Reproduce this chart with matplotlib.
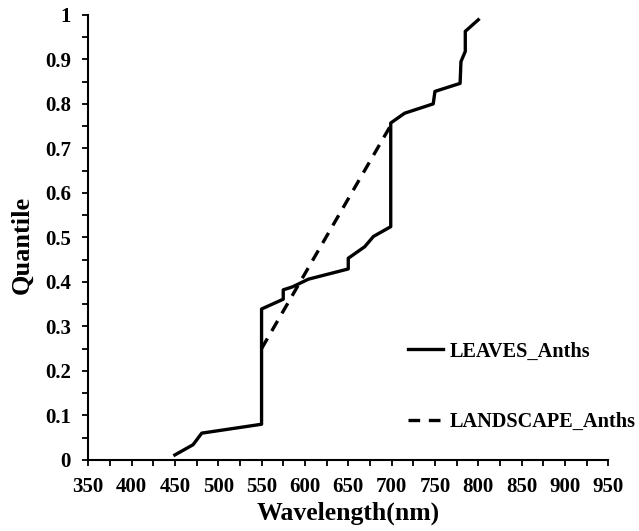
import matplotlib.pyplot as plt
from matplotlib.ticker import MultipleLocator, FuncFormatter

plt.rcParams['font.family'] = ['Liberation Serif', 'DejaVu Serif']
plt.rcParams['font.weight'] = 'bold'

# quantile curves (wavelength in nm, quantile)
leaves_wl = [450, 471, 481, 550, 550, 575, 575, 586, 604, 650, 650, 669, 679,
             699, 699, 715, 748, 750, 779, 780, 785, 785, 800]
leaves_q = [0.011, 0.034, 0.06, 0.08, 0.339, 0.361, 0.382, 0.389, 0.406, 0.429,
            0.453, 0.479, 0.502, 0.524, 0.757, 0.779, 0.80, 0.828, 0.846, 0.895,
            0.918, 0.963, 0.989]

landscape_wl = [550, 700]
landscape_q = [0.25, 0.755]

fig = plt.figure(figsize=(6.39, 5.31), dpi=100)
ax = fig.add_axes([0.138, 0.134, 0.814, 0.838])

ax.plot(leaves_wl, leaves_q, color='black', lw=2.4, label='LEAVES_Anths')
ax.plot(landscape_wl, landscape_q, color='black', lw=2.4, ls=(0, (3.5, 2.6)),
        label='LANDSCAPE_Anths')

ax.set_xlim(350, 950)
ax.set_ylim(0, 1)
ax.spines['top'].set_visible(False)
ax.spines['right'].set_visible(False)
for s in ['left', 'bottom']:
    ax.spines[s].set_linewidth(1.5)

ax.xaxis.set_major_locator(MultipleLocator(50))
ax.xaxis.set_minor_locator(MultipleLocator(25))
ax.yaxis.set_major_locator(MultipleLocator(0.1))
ax.yaxis.set_minor_locator(MultipleLocator(0.05))
ax.yaxis.set_major_formatter(FuncFormatter(lambda v, p: '%g' % round(v, 2)))
ax.tick_params(which='both', direction='out', length=4.5, width=1.3)
ax.tick_params(labelsize=15)
ax.tick_params(axis='y', pad=8)
ax.tick_params(axis='x', pad=8)

ax.set_xlabel('Wavelength(nm)', fontsize=18.5, fontweight='bold', labelpad=3)
ax.set_ylabel('Quantile', fontsize=19, fontweight='bold')
ax.yaxis.set_label_coords(-0.106, 0.483)

ax.legend(loc='center left', bbox_to_anchor=(0.6, 0.164), borderaxespad=0,
          frameon=False, labelspacing=2.5, handlelength=1.7, handletextpad=0.35,
          prop={'weight': 'bold', 'size': 14.6})

fig.savefig('out.png', dpi=100)
